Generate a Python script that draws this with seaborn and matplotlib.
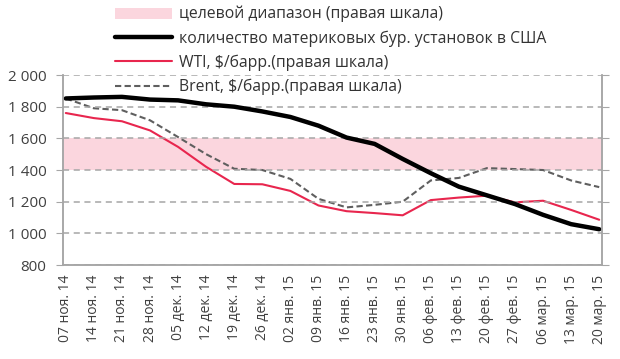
import matplotlib
matplotlib.use("Agg")
import matplotlib.pyplot as plt
import seaborn as sns
import numpy as np
import pandas as pd
from matplotlib.lines import Line2D
from matplotlib.patches import Patch
from matplotlib.ticker import FuncFormatter

# weekly dates (category axis)
dates = ["07 ноя. 14", "14 ноя. 14", "21 ноя. 14", "28 ноя. 14", "05 дек. 14",
         "12 дек. 14", "19 дек. 14", "26 дек. 14", "02 янв. 15", "09 янв. 15",
         "16 янв. 15", "23 янв. 15", "30 янв. 15", "06 фев. 15", "13 фев. 15",
         "20 фев. 15", "27 фев. 15", "06 мар. 15", "13 мар. 15", "20 мар. 15"]

# US land rigs (left scale)
rigs = [1852, 1858, 1862, 1845, 1840, 1815, 1800, 1770, 1735, 1680,
        1605, 1565, 1470, 1380, 1295, 1240, 1185, 1117, 1058, 1026]

# prices, $/bbl (right scale)
wti = [78.0, 76.4, 75.4, 72.5, 67.3, 61.0, 55.6, 55.5, 53.4, 48.8,
       47.0, 46.4, 45.7, 50.5, 51.3, 51.9, 49.8, 50.3, 47.4, 44.3]
brent = [82.6, 79.5, 78.9, 75.7, 70.4, 65.0, 60.4, 60.0, 57.2, 50.9,
         48.2, 49.0, 50.0, 56.7, 57.5, 60.6, 60.3, 60.0, 56.7, 54.6]

target_lo, target_hi = 60, 70

df = pd.DataFrame({"date": dates, "rigs": rigs, "wti": wti, "brent": brent})

sns.set_style("white")
plt.rcParams["font.family"] = ["Open Sans", "DejaVu Sans"]

fig = plt.figure(figsize=(6.2, 3.59), dpi=100)
ax = fig.add_axes([0.1016, 0.2618, 0.8694, 0.5292])
ax2 = ax.twinx()

grid_c = "#a6a6a6"
pink = "#fbd6de"
red = "#e8264e"
grey = "#5f5f5f"
txt_c = "#333333"

# right scale: band + prices
ax2.axhspan(target_lo, target_hi, color=pink, lw=0, zorder=0)
sns.lineplot(data=df, x="date", y="wti", ax=ax2, color=red, lw=1.5, sort=False)
sns.lineplot(data=df, x="date", y="brent", ax=ax2, color=grey, lw=1.5,
             sort=False, dashes=False, linestyle=(0, (3, 1.6)))
ax2.set_ylim(30, 90)
ax2.set_yticks(np.arange(30, 91, 10))
ax2.set_yticklabels([])
ax2.set_ylabel("")

# left scale: rigs on top
ax.set_zorder(ax2.get_zorder() + 1)
ax.patch.set_visible(False)
sns.lineplot(data=df, x="date", y="rigs", ax=ax, color="black", lw=3.2, sort=False)
ax.set_ylim(800, 2000)
ax.set_yticks(np.arange(800, 2001, 200))
ax.yaxis.set_major_formatter(FuncFormatter(lambda v, p: f"{int(v):,}".replace(",", " ")))
ax.set_xlim(-0.1, len(dates) - 0.9)
ax.set_xlabel("")
ax.set_ylabel("")
ax.grid(axis="y", color=grid_c, ls=(0, (4, 3)), lw=1.1)
ax.tick_params(axis="x", labelrotation=90, labelsize=10, length=5,
               direction="out", color=grid_c, pad=2)
ax.tick_params(axis="y", labelsize=11, length=5, direction="out",
               color=grid_c, pad=7)
ax2.tick_params(axis="y", length=5, direction="out", color=grid_c)

for a in (ax, ax2):
    a.spines["top"].set_visible(False)
    for s in ("left", "right", "bottom"):
        a.spines[s].set_color(grid_c)
        a.spines[s].set_linewidth(1.1)
for lab in ax.get_xticklabels() + ax.get_yticklabels():
    lab.set_color("#404040")

handles = [Patch(facecolor=pink, edgecolor="none"),
           Line2D([], [], color="black", lw=3.2),
           Line2D([], [], color=red, lw=1.5),
           Line2D([], [], color=grey, lw=1.5, ls=(0, (3, 1.6)))]
labels = ["целевой диапазон (правая шкала)",
          "количество материковых бур. установок в США",
          "WTI, $/барр.(правая шкала)",
          "Brent, $/барр.(правая шкала)"]
leg = fig.legend(handles, labels, loc="upper left", bbox_to_anchor=(115 / 620, 1 - 6 / 359),
                 frameon=False, fontsize=11.3, handlelength=3.6, handleheight=0.7,
                 handletextpad=0.45, labelspacing=0.5, borderaxespad=0, borderpad=0)
for t in leg.get_texts():
    t.set_color(txt_c)

fig.savefig("out.png", dpi=100)
